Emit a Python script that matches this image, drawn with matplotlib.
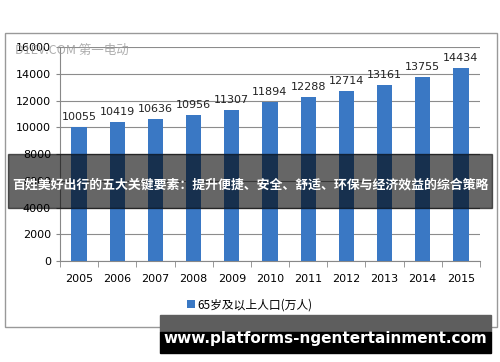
import numpy as np
import matplotlib.pyplot as plt
from matplotlib.patches import Rectangle

plt.rcParams['font.family'] = ['DejaVu Sans', 'Noto Sans CJK SC']

years = ['2005', '2006', '2007', '2008', '2009', '2010', '2011', '2012', '2013', '2014', '2015']
population = [10055, 10419, 10636, 10956, 11307, 11894, 12288, 12714, 13161, 13755, 14434]
series_name = '65岁及以上人口(万人)'
overlay_title = '百姓美好出行的五大关键要素：提升便捷、安全、舒适、环保与经济效益的综合策略'
site_url = 'www.platforms-ngentertainment.com'

fig = plt.figure(figsize=(5, 3.62), dpi=100)
ax = fig.add_axes([0.12, 0.279, 0.84, 0.591])

x = np.arange(len(years))
ax.bar(x, population, width=0.4, color='#3a78c4', zorder=3, label=series_name)
for xi, v in zip(x, population):
    ax.text(xi, v + 350, str(v), ha='center', va='bottom', fontsize=8, color='#222222')

ax.set_xlim(-0.5, len(years) - 0.5)
ax.set_ylim(0, 16000)
ax.set_yticks(np.arange(0, 16001, 2000))
ax.tick_params(axis='y', labelsize=8, length=3, color='#888888')
ax.set_xticks(x)
ax.set_xticklabels(years, fontsize=8)
ax.set_xticks(np.arange(-0.5, len(years), 1), minor=True)
ax.tick_params(axis='x', which='major', length=0, pad=9)
ax.tick_params(axis='x', which='minor', length=4, color='#888888')
ax.grid(axis='y', color='#8c8c8c', linewidth=0.8, zorder=0)
for s in ['top', 'right']:
    ax.spines[s].set_visible(False)
ax.spines['left'].set_color('#888888')
ax.spines['bottom'].set_color('#888888')

leg = fig.legend(loc='center', bbox_to_anchor=(0.5, 0.158), frameon=False,
                 handlelength=0.7, handleheight=0.7, handletextpad=0.2,
                 prop={'family': ['Noto Sans CJK SC', 'DejaVu Sans'], 'size': 8.5})

# chart frame
fig.patches.append(Rectangle((0.01, 1 - 327 / 362), 0.984, 294 / 362, transform=fig.transFigure,
                             fill=False, edgecolor='#999999', linewidth=1.0))

# watermark
fig.text(0.03, 1 - 50 / 362, 'D1EV.COM 第一电动', fontsize=9, color='#999999', alpha=0.8,
         va='center', family=['Noto Sans CJK SC', 'DejaVu Sans'], zorder=4)

# gray overlay band with title
fig.patches.append(Rectangle((0.016, 1 - 208 / 362), 0.968, 54 / 362, transform=fig.transFigure,
                             color='black', alpha=0.6, zorder=5))
fig.text(0.5, 1 - 184 / 362, overlay_title, ha='center', va='center', color='white',
         fontsize=9.3, fontweight='bold', family=['Noto Sans CJK SC', 'DejaVu Sans'], zorder=6)

# url box
fig.patches.append(Rectangle((0.32, 1 - 332 / 362), 0.662, 17 / 362, transform=fig.transFigure,
                             color='#5e5e5e', zorder=5))
fig.patches.append(Rectangle((0.32, 1 - 353 / 362), 0.662, 21 / 362, transform=fig.transFigure,
                             color='black', zorder=5))
fig.text(0.65, 1 - 338 / 362, site_url, ha='center', va='center', color='white',
         fontsize=11, fontweight='bold', zorder=6)

fig.savefig('out.png', dpi=100)
